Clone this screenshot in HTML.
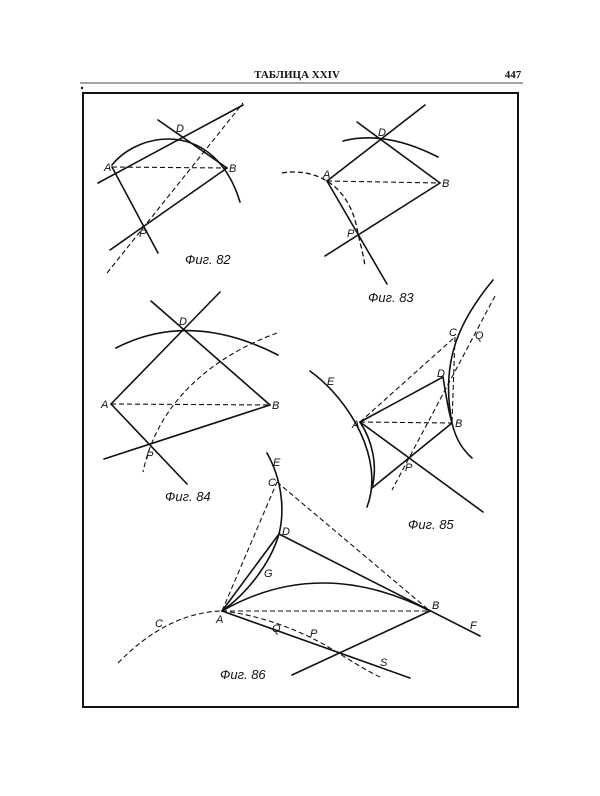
<!DOCTYPE html>
<html><head><meta charset="utf-8"><style>
body{margin:0;background:#fff}
svg{display:block}
text{font-family:"Liberation Sans",sans-serif;font-style:italic;font-size:11px;fill:#111;font-stretch:condensed}
.h{font-family:"Liberation Serif",serif;font-style:normal;font-size:11px;font-weight:bold}
.f{font-size:13px}
</style></head><body>
<svg width="600" height="796" viewBox="0 0 600 796" xmlns="http://www.w3.org/2000/svg">
<rect width="600" height="796" fill="#fff"/>
<text class="h" x="297" y="78" text-anchor="middle">ТАБЛИЦА XXIV</text>
<text class="h" x="513" y="78" text-anchor="middle">447</text>
<line x1="80" y1="83" x2="523" y2="83" stroke="#444" stroke-width="1"/>
<rect x="83" y="93" width="435" height="614" fill="none" stroke="#111" stroke-width="2"/>
<circle cx="82" cy="88" r="1.2" fill="#111"/>
<g stroke="#111" stroke-width="1.6" fill="none" stroke-linecap="round">
<!-- Fig 82 -->
<line x1="98" y1="183" x2="243" y2="105"/>
<line x1="158" y1="120" x2="227" y2="168"/>
<line x1="112" y1="167" x2="158" y2="253"/>
<line x1="110" y1="250" x2="227" y2="168"/>
<path d="M112,165 C140,130 215,120 240,202"/>
<!-- Fig 83 -->
<line x1="327" y1="181" x2="425" y2="105"/>
<line x1="357" y1="122" x2="440" y2="183"/>
<path d="M343,141 Q385,130 438,157"/>
<line x1="327" y1="181" x2="387" y2="284"/>
<line x1="325" y1="256" x2="440" y2="183"/>
<!-- Fig 84 -->
<line x1="111" y1="404" x2="220" y2="292"/>
<line x1="151" y1="301" x2="270" y2="405"/>
<line x1="111" y1="404" x2="187" y2="484"/>
<line x1="104" y1="459" x2="270" y2="405"/>
<path d="M116,348 Q190,310 278,355"/>
<!-- Fig 85 -->
<path d="M310,371 C350,400 385,460 367,507"/>
<path d="M360,422 C372,440 378,465 372,488"/>
<line x1="372" y1="488" x2="452" y2="423"/>
<line x1="360" y1="422" x2="483" y2="512"/>
<line x1="360" y1="422" x2="443" y2="377"/>
<path d="M443,377 C446,395 448,410 452,423"/>
<path d="M493,280 C460,320 440,360 452,423 C456,440 463,450 472,458"/>
<!-- Fig 86 -->
<path d="M267,453 C282,480 285,510 279,534 C270,565 245,595 222,611"/>
<line x1="222" y1="611" x2="279" y2="534"/>
<line x1="279" y1="534" x2="480" y2="636"/>
<path d="M222,611 Q320,555 430,611"/>
<line x1="222" y1="611" x2="410" y2="678"/>
<line x1="292" y1="675" x2="430" y2="611"/>
</g>
<g stroke="#111" stroke-width="1.1" fill="none" stroke-dasharray="5,3">
<line x1="112" y1="167" x2="227" y2="168"/>
<line x1="107" y1="273" x2="243" y2="103"/>
<line x1="327" y1="181" x2="440" y2="183"/>
<path d="M282,173 C310,168 350,180 358,234 C362,250 364,258 365,267" stroke-width="1.3"/>
<line x1="111" y1="404" x2="270" y2="405"/>
<path d="M277,333 C230,350 160,390 143,472"/>
<line x1="360" y1="422" x2="455" y2="337"/>
<line x1="360" y1="422" x2="452" y2="423"/>
<line x1="455" y1="337" x2="452" y2="423"/>
<line x1="495" y1="296" x2="392" y2="490"/>
<line x1="222" y1="611" x2="277" y2="482"/>
<line x1="277" y1="482" x2="430" y2="611"/>
<line x1="222" y1="611" x2="430" y2="611"/>
<path d="M118,663 C150,630 185,612 222,611"/>
<path d="M222,611 C260,615 300,630 330,648 C350,660 365,670 380,677"/>
</g>
<g>
<text x="104" y="171">A</text><text x="176" y="132">D</text><text x="229" y="172">B</text><text x="139" y="237">P</text>
<text class="f" x="185" y="264">Фиг. 82</text>
<text x="323" y="178">A</text><text x="378" y="136">D</text><text x="442" y="187">B</text><text x="347" y="237">P</text>
<text class="f" x="368" y="302">Фиг. 83</text>
<text x="101" y="408">A</text><text x="179" y="325">D</text><text x="272" y="409">B</text><text x="146" y="459">P</text>
<text class="f" x="165" y="501">Фиг. 84</text>
<text x="327" y="385">E</text><text x="449" y="336">C</text><text x="475" y="339">Q</text><text x="437" y="377">D</text><text x="352" y="428">A</text><text x="455" y="427">B</text><text x="405" y="471">P</text>
<text class="f" x="408" y="529">Фиг. 85</text>
<text x="273" y="466">E</text><text x="268" y="486">C</text><text x="282" y="535">D</text><text x="264" y="577">G</text><text x="216" y="623">A</text><text x="432" y="609">B</text><text x="470" y="629">F</text><text x="272" y="632">Q</text><text x="310" y="637">P</text><text x="380" y="666">S</text><text x="155" y="627">C</text>
<text class="f" x="220" y="679">Фиг. 86</text>
</g>
</svg>
</body></html>
